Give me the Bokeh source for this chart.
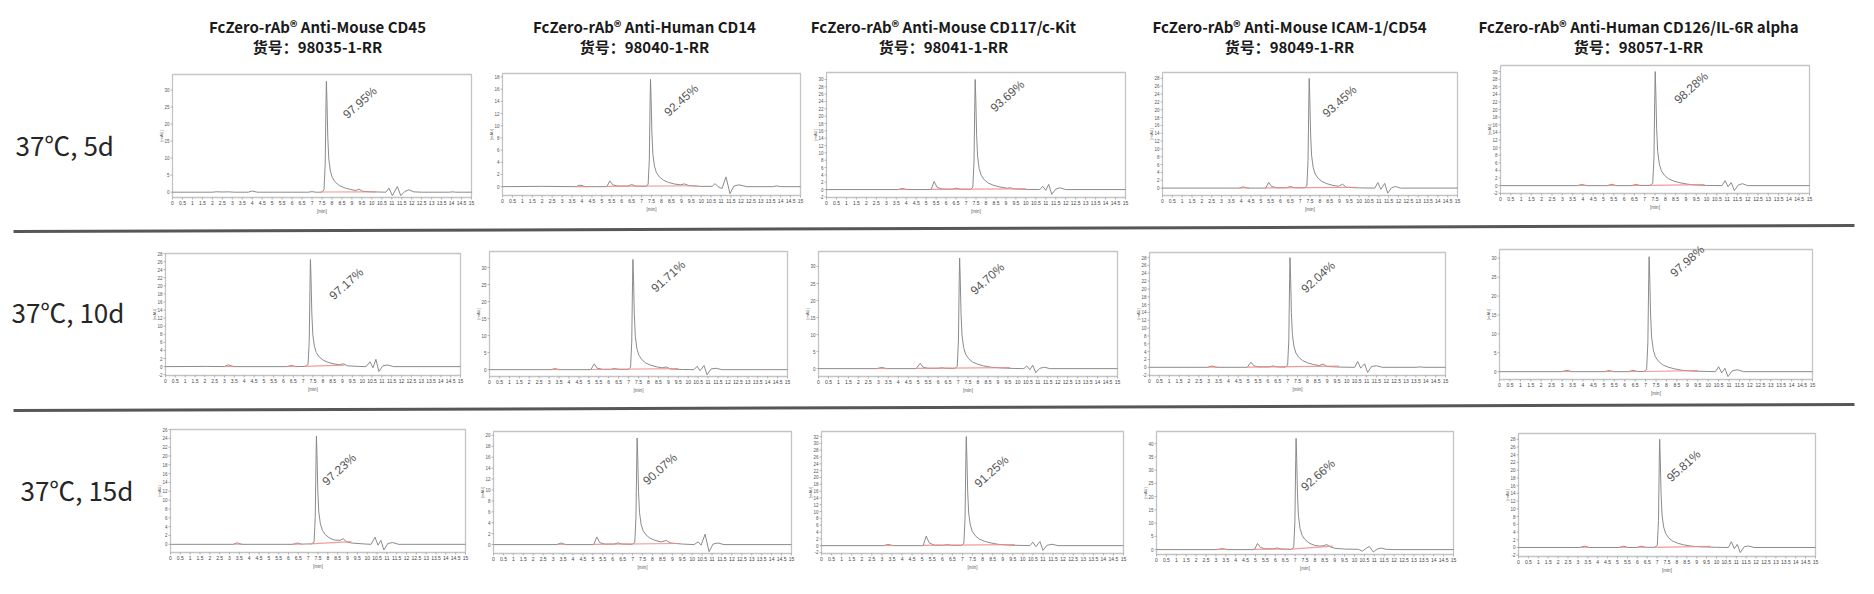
import math
from bokeh.plotting import figure
from bokeh.models import Range1d
from bokeh.core.properties import value
from bokeh.embed import file_html
from bokeh.resources import INLINE

# ---------------- data ----------------
products = ["FcZero-rAb® Anti-Mouse CD45", "FcZero-rAb® Anti-Human CD14",
            "FcZero-rAb® Anti-Mouse CD117/c-Kit", "FcZero-rAb® Anti-Mouse ICAM-1/CD54",
            "FcZero-rAb® Anti-Human CD126/IL-6R alpha"]
catalog = ["货号：98035-1-RR", "货号：98040-1-RR", "货号：98041-1-RR",
           "货号：98049-1-RR", "货号：98057-1-RR"]
conditions = ["37℃, 5d", "37℃, 10d", "37℃, 15d"]

purity_5d = ["97.95%", "92.45%", "93.69%", "93.45%", "98.28%"]
purity_10d = ["97.17%", "91.71%", "94.70%", "92.04%", "97.98%"]
purity_15d = ["97.23%", "90.07%", "91.25%", "92.66%", "95.81%"]

x_ticks = [0, 0.5, 1, 1.5, 2, 2.5, 3, 3.5, 4, 4.5, 5, 5.5, 6, 6.5, 7, 7.5, 8, 8.5, 9, 9.5,
           10, 10.5, 11, 11.5, 12, 12.5, 13, 13.5, 14, 14.5, 15]
x_tick_labels = ["0", "0.5", "1", "1.5", "2", "2.5", "3", "3.5", "4", "4.5", "5", "5.5", "6", "6.5",
                 "7", "7.5", "8", "8.5", "9", "9.5", "10", "10.5", "11", "11.5", "12", "12.5",
                 "13", "13.5", "14", "14.5", "15"]

# (time [min], signal [mAU])
r1c1 = [(0,0),(2.0,0),(2.2,0.12),(2.5,0.05),(2.8,0.1),(3.1,0),(3.8,0),(4.0,0.35),(4.25,0),(6.8,0),(7.0,0.15),(7.2,0),(7.47,0),(7.60,0.65),(7.66,8.15),(7.70,26.08),(7.72,32.6),(7.75,26.73),(7.79,16.3),(7.84,9.78),(7.92,6.19),(8.02,4.24),(8.17,2.93),(8.37,1.96),(8.62,1.3),(8.92,0.82),(9.2,0.5),(9.35,0.9),(9.55,0.25),(10.0,0.1),(10.7,0),(10.86,1.2),(11.03,-1.0),(11.28,1.65),(11.45,-1.0),(11.65,0.2),(11.86,0.7),(12.1,0.1),(12.5,0),(13.9,0),(14.05,0.1),(14.2,0),(15,0)]
r1c2 = [(0,0),(2.0,0.05),(3.7,0),(3.9,0.25),(4.2,0),(5.25,0),(5.4,0.95),(5.55,0.3),(5.8,0.1),(6.3,0.1),(6.5,0.35),(6.7,0.1),(7.20,0.05),(7.33,0.35),(7.39,4.4),(7.43,14.08),(7.45,17.6),(7.48,14.43),(7.52,8.8),(7.57,5.28),(7.65,3.34),(7.75,2.29),(7.90,1.58),(8.10,1.06),(8.35,0.7),(8.65,0.44),(8.95,0.3),(9.15,0.45),(9.4,0.15),(10.0,0.05),(10.55,0.05),(10.7,0.5),(10.85,0.0),(11.05,-0.3),(11.25,1.6),(11.45,-1.15),(11.65,0.1),(11.9,0.3),(12.3,0),(13.6,0),(13.8,0.12),(14.0,0),(15,0)]
r1c3 = [(0,0),(3.6,0),(3.8,0.3),(4.0,0),(5.25,0),(5.4,2.2),(5.55,0.6),(5.8,0.15),(6.35,0.1),(6.5,0.4),(6.7,0.1),(7.21,0.05),(7.34,0.6),(7.40,7.5),(7.44,24),(7.46,30),(7.49,24.6),(7.53,15),(7.58,9),(7.66,5.7),(7.76,3.9),(7.91,2.7),(8.11,1.8),(8.36,1.2),(8.66,0.75),(9.06,0.36),(9.2,0.5),(9.4,0.2),(10.0,0.05),(10.7,0),(10.85,0.9),(11.0,-0.2),(11.15,1.4),(11.3,-1.3),(11.5,0.1),(11.7,0.5),(12.0,0),(15,0)]
r1c4 = [(0,0),(3.9,0),(4.1,0.3),(4.35,0),(5.25,0),(5.4,1.45),(5.55,0.4),(5.8,0.1),(6.3,0.1),(6.5,0.4),(6.7,0.1),(7.21,0.05),(7.34,0.56),(7.40,7),(7.44,22.4),(7.46,28),(7.49,22.96),(7.53,14),(7.58,8.4),(7.66,5.32),(7.76,3.64),(7.91,2.52),(8.11,1.68),(8.36,1.12),(8.66,0.7),(8.95,0.45),(9.15,1.0),(9.35,0.2),(10.0,0.05),(10.8,0),(10.95,1.4),(11.1,-0.3),(11.3,1.2),(11.45,-1.3),(11.65,0.1),(11.85,0.4),(12.1,0),(15,0)]
r1c5 = [(0,0),(3.75,0),(3.95,0.3),(4.15,0),(5.2,0),(5.4,0.35),(5.6,0),(6.4,0),(6.56,0.35),(6.75,0.05),(7.26,0.05),(7.39,0.6),(7.45,7.5),(7.49,24),(7.51,30),(7.54,24.6),(7.58,15),(7.63,9),(7.71,5.7),(7.81,3.9),(7.96,2.7),(8.16,1.8),(8.41,1.2),(8.71,0.75),(9.11,0.36),(9.4,0.2),(10.0,0.05),(10.75,0),(10.9,1.3),(11.05,-0.3),(11.2,0.8),(11.35,-1.3),(11.55,0.2),(11.75,0.5),(12.0,0),(15,0)]
r2c1 = [(0,0),(2.1,0.05),(3.0,0),(3.2,0.45),(3.45,0),(6.2,0),(6.4,0.3),(6.6,0),(7.12,0.05),(7.25,0.53),(7.31,6.63),(7.35,21.2),(7.37,26.5),(7.40,21.73),(7.44,13.25),(7.49,7.95),(7.57,5.04),(7.67,3.45),(7.82,2.39),(8.02,1.59),(8.27,1.06),(8.57,0.66),(8.85,0.45),(9.05,0.7),(9.25,0.2),(9.8,0.05),(10.2,0),(10.4,1.2),(10.55,-0.3),(10.7,1.8),(10.85,-1.2),(11.05,0.2),(11.3,0.4),(11.6,0),(15,0)]
r2c2 = [(0,0),(3.1,0),(3.3,0.3),(3.5,0),(5.1,0),(5.27,1.7),(5.42,0.4),(5.7,0.1),(6.1,0.1),(6.3,0.35),(6.5,0.1),(6.97,0.05),(7.10,0.65),(7.16,8.1),(7.20,25.92),(7.22,32.4),(7.25,26.57),(7.29,16.2),(7.34,9.72),(7.42,6.16),(7.52,4.21),(7.67,2.92),(7.87,1.94),(8.12,1.3),(8.42,0.81),(8.7,0.55),(8.9,0.8),(9.1,0.2),(9.7,0.05),(10.3,0),(10.45,1.0),(10.6,-0.3),(10.8,1.2),(10.95,-1.5),(11.15,0.2),(11.4,0.4),(11.7,0),(15,0)]
r2c3 = [(0,0),(2.95,0),(3.16,0.4),(3.4,0),(4.9,0),(5.1,1.56),(5.25,0.4),(5.5,0.1),(6.0,0.1),(6.2,0.25),(6.4,0.1),(6.83,0.05),(6.96,0.65),(7.02,8.13),(7.06,26),(7.08,32.5),(7.11,26.65),(7.15,16.25),(7.20,9.75),(7.28,6.18),(7.38,4.23),(7.53,2.93),(7.73,1.95),(7.98,1.3),(8.28,0.81),(8.68,0.39),(9.2,0.2),(9.8,0.05),(10.3,0),(10.45,0.8),(10.6,-0.3),(10.75,1.0),(10.9,-1.2),(11.1,0.1),(11.35,0.4),(11.6,0),(15,0)]
r2c4 = [(0,0),(2.95,0),(3.17,0.35),(3.4,0),(4.95,0),(5.14,1.3),(5.3,0.35),(5.55,0.1),(6.07,0.1),(6.27,0.35),(6.47,0.1),(6.87,0.05),(7.00,0.56),(7.06,7),(7.10,22.4),(7.12,28),(7.15,22.96),(7.19,14),(7.24,8.4),(7.32,5.32),(7.42,3.64),(7.57,2.52),(7.77,1.68),(8.02,1.12),(8.32,0.7),(8.6,0.45),(8.8,0.8),(9.0,0.2),(9.7,0.05),(10.4,0),(10.55,1.5),(10.7,-0.2),(10.9,0.9),(11.05,-1.3),(11.25,0.2),(11.5,0.4),(11.8,0),(13.5,0),(13.7,0.1),(13.9,0),(15,0)]
r2c5 = [(0,0),(3.0,0),(3.23,0.35),(3.45,0),(5.05,0),(5.25,0.3),(5.45,0),(6.2,0),(6.39,0.35),(6.6,0.05),(6.92,0.05),(7.05,0.61),(7.11,7.6),(7.15,24.32),(7.17,30.4),(7.20,24.93),(7.24,15.2),(7.29,9.12),(7.37,5.78),(7.47,3.95),(7.62,2.74),(7.82,1.82),(8.07,1.22),(8.37,0.76),(8.77,0.36),(9.3,0.15),(10.0,0.05),(10.35,0),(10.5,1.3),(10.65,-0.3),(10.8,0.9),(10.95,-1.3),(11.15,0.2),(11.4,0.5),(11.7,0),(15,0)]
r3c1 = [(0,0),(3.2,0),(3.4,0.35),(3.6,0),(6.25,0),(6.46,0.3),(6.65,0.05),(7.17,0.1),(7.30,0.49),(7.36,6.13),(7.40,19.6),(7.42,24.5),(7.45,20.09),(7.49,12.25),(7.54,7.35),(7.62,4.66),(7.72,3.19),(7.87,2.21),(8.07,1.47),(8.32,0.98),(8.62,0.9),(8.78,1.3),(8.95,0.55),(9.2,0.3),(9.8,0.1),(10.2,0),(10.4,1.6),(10.55,-0.2),(10.7,0.9),(10.85,-1.3),(11.05,0.2),(11.3,0.4),(11.6,0),(15,0)]
r3c2 = [(0,0),(3.2,0),(3.4,0.3),(3.6,0),(5.05,0),(5.2,1.4),(5.35,0.35),(5.6,0.1),(6.07,0.1),(6.27,0.3),(6.47,0.1),(6.98,0.05),(7.11,0.39),(7.17,4.88),(7.21,15.6),(7.23,19.5),(7.26,15.99),(7.30,9.75),(7.35,5.85),(7.43,3.71),(7.53,2.54),(7.68,1.76),(7.88,1.17),(8.13,0.78),(8.43,0.49),(8.7,0.75),(8.9,0.3),(9.5,0.1),(10.1,0),(10.3,0.5),(10.45,-0.1),(10.65,1.9),(10.85,-1.3),(11.05,0.1),(11.3,0.3),(11.6,0),(15,0)]
r3c3 = [(0,0),(3.1,0),(3.3,0.35),(3.55,0),(5.05,0),(5.2,2.8),(5.35,0.8),(5.6,0.15),(6.05,0.1),(6.25,0.3),(6.45,0.1),(6.94,0.05),(7.07,0.64),(7.13,8),(7.17,25.6),(7.19,32),(7.22,26.24),(7.26,16),(7.31,9.6),(7.39,6.08),(7.49,4.16),(7.64,2.88),(7.84,1.92),(8.09,1.28),(8.39,0.8),(8.79,0.38),(9.3,0.15),(10.0,0.05),(10.35,0),(10.5,1.0),(10.65,-0.3),(10.85,1.2),(11.0,-1.4),(11.2,0.1),(11.45,0.4),(11.75,0),(15,0)]
r3c4 = [(0,0),(3.1,0),(3.3,0.4),(3.55,0),(4.95,0),(5.1,2.3),(5.25,0.8),(5.5,0.3),(5.9,0.3),(6.1,0.6),(6.3,0.2),(6.6,0.1),(6.80,0.1),(6.93,0.84),(6.99,10.5),(7.03,33.6),(7.05,42),(7.08,34.44),(7.12,21),(7.17,12.6),(7.25,7.98),(7.35,5.46),(7.50,3.78),(7.70,2.52),(7.95,1.68),(8.25,1.3),(8.45,1.5),(8.6,1.9),(8.78,1.0),(9.0,0.5),(9.5,0.2),(10.2,0.1),(10.4,-0.6),(10.55,0.3),(10.75,1.2),(10.95,-0.9),(11.15,0.2),(11.35,0.6),(11.6,0.1),(12.0,0),(15,0)]
r3c5 = [(0,0),(3.1,0),(3.34,0.35),(3.55,0),(5.1,0),(5.3,0.35),(5.5,0),(6.0,0),(6.2,0.35),(6.4,0.05),(6.88,0.05),(7.01,0.56),(7.07,7),(7.11,22.4),(7.13,28),(7.16,22.96),(7.20,14),(7.25,8.4),(7.33,5.32),(7.43,3.64),(7.58,2.52),(7.78,1.68),(8.03,1.12),(8.33,0.7),(8.73,0.34),(9.3,0.15),(10.0,0.05),(10.6,0),(10.75,1.5),(10.9,-0.3),(11.05,0.8),(11.2,-1.3),(11.4,0.2),(11.6,0.4),(11.9,0),(15,0)]

# integration baselines (t0, y0, t1, y1)
red_r1 = [[(7.42,0.05,10.2,0.1)],
          [(3.7,0.02,4.3,0.02),(5.2,0.05,9.8,0.15)],
          [(3.6,0.05,4.1,0.05),(5.2,0.05,10.0,0.2)],
          [(3.9,0.05,4.4,0.05),(5.2,0.05,9.8,0.2)],
          [(3.75,0.05,4.2,0.05),(5.2,0.05,5.6,0.05),(6.35,0.05,6.8,0.05),(7.25,0.05,9.9,0.25)]]
red_r2 = [[(3.0,0.05,3.5,0.05),(6.15,0.05,6.7,0.05),(7.05,0.05,9.1,0.35)],
          [(3.1,0.05,3.55,0.05),(5.1,0.05,9.5,0.3)],
          [(2.95,0.05,3.45,0.05),(4.9,0.05,9.6,0.3)],
          [(2.95,0.05,3.45,0.05),(4.95,0.05,9.6,0.3)],
          [(3.0,0.05,3.5,0.05),(5.0,0.05,5.5,0.05),(6.15,0.05,6.65,0.05),(6.9,0.05,9.5,0.3)]]
red_r3 = [[(3.2,0.05,3.65,0.05),(6.2,0.05,6.7,0.05),(7.1,0.1,9.2,0.6)],
          [(3.2,0.05,3.65,0.05),(5.0,0.05,9.3,0.2)],
          [(3.1,0.05,3.6,0.05),(5.0,0.05,9.6,0.3)],
          [(3.0,0.1,3.6,0.1),(4.9,0.1,6.7,0.2),(6.8,0.2,8.9,1.3)],
          [(3.1,0.05,3.6,0.05),(5.05,0.05,5.55,0.05),(5.95,0.05,6.45,0.05),(6.85,0.05,9.7,0.3)]]

# y axis limits and tick step of each chromatogram
ylim_r1 = [(-1.56, 34.57), (-1.45, 18.57), (-2.16, 31.9), (-1.89, 29.5), (-2.07, 31.6)]
ylim_r2 = [(-2.2, 28.0), (-2.01, 34.7), (-2.31, 34.4), (-2.09, 29.3), (-2.07, 32.3)]
ylim_r3 = [(-1.85, 26.0), (-1.63, 20.7), (-2.31, 33.5), (-1.85, 44.6), (-2.33, 29.5)]
ystep_r1 = [5, 2, 2, 2, 2]
ystep_r2 = [2, 5, 5, 2, 5]
ystep_r3 = [2, 2, 2, 5, 2]

traces = [[r1c1, r1c2, r1c3, r1c4, r1c5], [r2c1, r2c2, r2c3, r2c4, r2c5], [r3c1, r3c2, r3c3, r3c4, r3c5]]
reds = [red_r1, red_r2, red_r3]
ylims = [ylim_r1, ylim_r2, ylim_r3]
ysteps = [ystep_r1, ystep_r2, ystep_r3]
purities = [purity_5d, purity_10d, purity_15d]

# ---------------- layout (page pixels; figure placed at page origin) ----------------
W, H = 1858, 578
OX, OY = 0, 0
frames = [[(172, 471, 74, 197), (502, 800, 73, 195), (826, 1125, 72, 197), (1162, 1457, 72, 195), (1500, 1809, 65, 193)],
          [(165, 460, 253, 375), (489, 787, 251, 376), (818, 1117, 251, 376), (1149, 1445, 252, 375), (1499, 1812, 249, 379)],
          [(170, 465, 429, 552), (493, 791, 431, 553), (821, 1123, 431, 553), (1156, 1453, 431, 554), (1518, 1815, 433, 556)]]
label_frac = [[(0.627, 0.77), (0.60, 0.78), (0.605, 0.81), (0.60, 0.764), (0.617, 0.824)],
              [(0.613, 0.75), (0.60, 0.80), (0.565, 0.78), (0.57, 0.80), (0.60, 0.91)],
              [(0.572, 0.674), (0.559, 0.69), (0.563, 0.67), (0.544, 0.645), (0.556, 0.736)]]
header_x = [317, 644, 943, 1289, 1638]
row_label_x = [15, 11, 20]
row_label_y = [144, 311, 489]

FONT = value("Noto Sans CJK SC")
SMALL = value("Liberation Sans")

p = figure(width=W, height=H, x_range=Range1d(OX, OX + W), y_range=Range1d(OY + H, OY),
           output_backend="svg", toolbar_location=None, x_axis_location=None,
           y_axis_location=None, min_border=0, outline_line_color=None,
           background_fill_color="white", border_fill_color="white")
p.xgrid.grid_line_color = None
p.ygrid.grid_line_color = None

# headers
p.text(x=header_x, y=[25.7] * 5, text=products, text_align="center", text_baseline="middle",
       text_font=FONT, text_font_size="15px", text_font_style="bold", text_color="#1a1a1a")
p.text(x=header_x, y=[45.5] * 5, text=catalog, text_align="center", text_baseline="middle",
       text_font=FONT, text_font_size="15px", text_font_style="bold", text_color="#1a1a1a")
# row labels
p.text(x=row_label_x, y=row_label_y, text=conditions, text_align="left", text_baseline="middle",
       text_font=FONT, text_font_size="26px", text_color="#262626")
# separators
p.segment(x0=[13, 13], y0=[231, 410], x1=[1854, 1854], y1=[225, 404],
          line_color="#575757", line_width=3)

xr_dict, yr_dict = {}, {}
for r in range(3):
    for c in range(5):
        L, R, T, B = frames[r][c]
        ymin, ymax = ylims[r][c]
        sx = (R - L) / 15.0
        sy = (B - T) / (ymax - ymin)
        x0 = 0 - (L - OX) / sx
        y0 = ymin - (OY + H - B) / sy
        xr_dict[f"x{r}{c}"] = Range1d(x0, x0 + W / sx)
        yr_dict[f"y{r}{c}"] = Range1d(y0, y0 + H / sy)
p.extra_x_ranges = xr_dict
p.extra_y_ranges = yr_dict

for r in range(3):
    for c in range(5):
        L, R, T, B = frames[r][c]
        ymin, ymax = ylims[r][c]
        sx = (R - L) / 15.0
        sy = (B - T) / (ymax - ymin)
        kw = dict(x_range_name=f"x{r}{c}", y_range_name=f"y{r}{c}")
        # frame
        p.quad(left=[0], right=[15], bottom=[ymin], top=[ymax], fill_color=None,
               line_color="#c4c4c4", line_width=1.3, **kw)
        # x ticks
        n = len(x_ticks)
        p.segment(x0=x_ticks, y0=[ymin] * n, x1=x_ticks, y1=[ymin - 2.0 / sy] * n,
                  line_color="#888888", line_width=0.6, **kw)
        p.text(x=x_ticks, y=[ymin] * n, text=x_tick_labels, y_offset=3, text_align="center",
               text_baseline="top", text_font=SMALL, text_font_size="5px", text_color="#444444", **kw)
        p.text(x=[7.5], y=[ymin], text=["[min]"], y_offset=11, text_align="center",
               text_baseline="top", text_font=SMALL, text_font_size="4.5px", text_color="#555555", **kw)
        # y ticks
        step = ysteps[r][c]
        yt = [k * step for k in range(math.ceil(ymin / step), math.floor(ymax / step) + 1)]
        m = len(yt)
        p.segment(x0=[0] * m, y0=yt, x1=[-2.0 / sx] * m, y1=yt, line_color="#888888",
                  line_width=0.6, **kw)
        p.text(x=[0] * m, y=yt, text=[str(v) for v in yt], x_offset=-3, text_align="right",
               text_baseline="middle", text_font=SMALL, text_font_size="4.5px", text_color="#555555", **kw)
        p.text(x=[0], y=[(ymin + ymax) / 2], text=["[mAU]"], x_offset=-11, angle=math.pi / 2,
               text_align="center", text_baseline="middle", text_font=SMALL,
               text_font_size="4px", text_color="#555555", **kw)
        # chromatogram
        tr = traces[r][c]
        p.line([q[0] for q in tr], [q[1] for q in tr], line_color="#858585", line_width=0.95, **kw)
        rd = reds[r][c]
        p.segment(x0=[q[0] for q in rd], y0=[q[1] for q in rd], x1=[q[2] for q in rd],
                  y1=[q[3] for q in rd], line_color="#f08a8a", line_width=1.2, line_alpha=0.85, **kw)
        # purity label
        fx, fy = label_frac[r][c]
        p.text(x=[fx * 15], y=[ymin + fy * (ymax - ymin)], text=[purities[r][c]], angle=0.73,
               text_align="center", text_baseline="middle", text_font=SMALL,
               text_font_size="12px", text_color="#555555", **kw)

open("out.html", "w").write(file_html(p, INLINE))
